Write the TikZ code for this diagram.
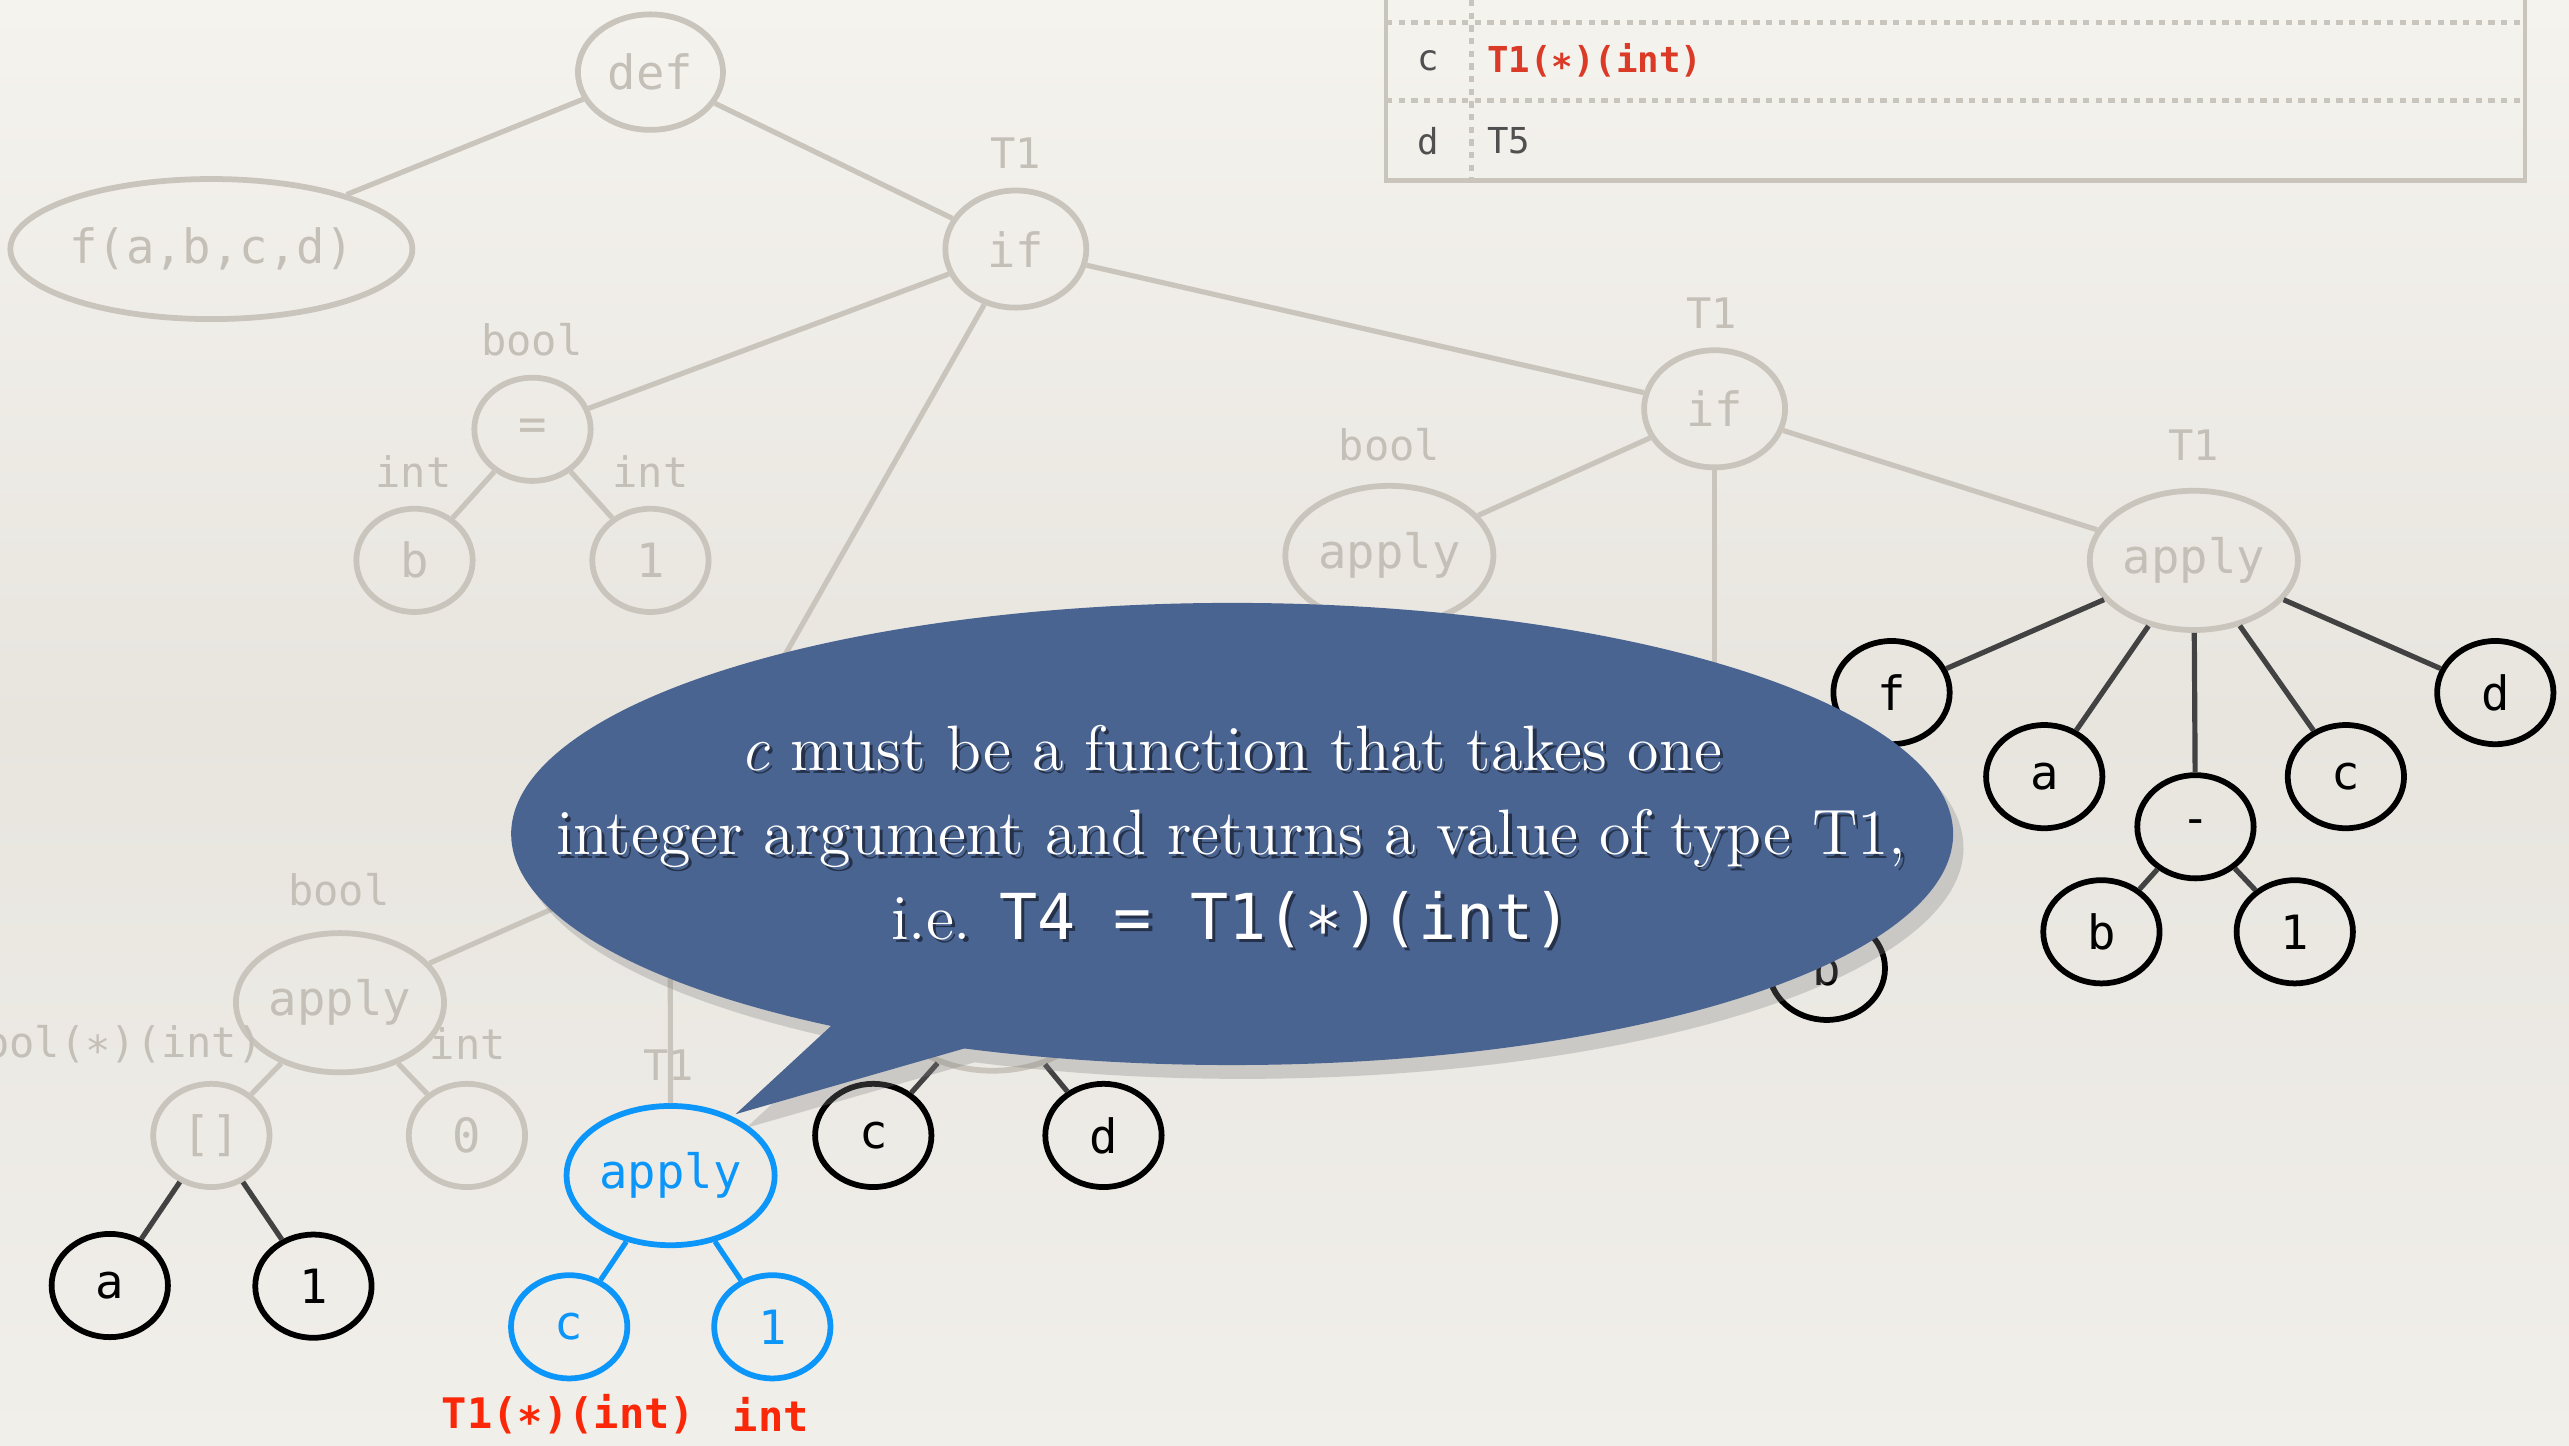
\documentclass[tikz,border=0pt]{standalone}
\usepackage{fontspec}
\setmonofont{DejaVu Sans Mono}
\usetikzlibrary{shapes.geometric,shadows,calc}

\definecolor{papertop}{RGB}{245,243,238}
\definecolor{papermid}{RGB}{232,229,223}
\definecolor{paperbot}{RGB}{241,239,234}
\definecolor{fadegray}{RGB}{201,196,188}
\definecolor{fadetext}{RGB}{196,191,183}
\definecolor{edgedark}{RGB}{66,66,66}
\definecolor{hotblue}{RGB}{12,150,250}
\definecolor{bubblefill}{RGB}{74,100,146}
\definecolor{tabred}{RGB}{218,58,38}
\definecolor{labred}{RGB}{250,40,8}
\definecolor{tabtext}{RGB}{80,80,80}

\newcommand{\calloutmsg}{\textit{c} must be a function that takes one\\
integer argument and returns a value of type T1,\\
i.e. {\fontsize{11}{14.65}\selectfont\ttfamily T4 = T1(∗)(int)}}

\begin{document}
\begin{tikzpicture}[
    tnode/.style={ellipse, line width=1pt, inner sep=0pt, minimum width=0.71cm, minimum height=0.63cm, font=\fontsize{8.2}{9}\selectfont\ttfamily},
    wide/.style={minimum width=1.27cm, minimum height=0.85cm},
    faded/.style={tnode, draw=fadegray, text=fadetext},
    plain/.style={tnode, draw=black, text=black},
    hot/.style={tnode, draw=hotblue, text=hotblue},
    typ/.style={font=\fontsize{7.3}{8}\selectfont\ttfamily, text=fadetext, inner sep=0pt},
    redtyp/.style={font=\fontsize{7.3}{8}\selectfont\ttfamily\bfseries, text=labred, inner sep=0pt},
    tabtxt/.style={font=\fontsize{6.2}{7}\selectfont\ttfamily, text=tabtext, inner sep=0pt},
    fedge/.style={draw=fadegray, line width=0.9pt},
    dedge/.style={draw=edgedark, line width=0.9pt},
    bedge/.style={draw=hotblue, line width=0.9pt},
    msgtext/.style={align=center, font=\fontsize{11.15}{14.65}\selectfont, inner sep=0pt}
]
    % paper
    \useasboundingbox (0,0) rectangle (15.68,-8.82);
    \fill[top color=papertop, bottom color=paperbot, middle color=papermid] (0,0) rectangle (15.68,-8.82);

    % table of types
    \draw[fadegray, line width=0.8pt] (8.46,0) -- (8.46,-1.10) -- (15.41,-1.10) -- (15.41,0);
    \draw[fadegray, line width=0.9pt, dash pattern=on 1.1pt off 1.1pt] (8.46,-0.139) -- (15.41,-0.139);
    \draw[fadegray, line width=0.9pt, dash pattern=on 1.1pt off 1.1pt] (8.46,-0.615) -- (15.41,-0.615);
    \draw[fadegray, line width=0.9pt, dash pattern=on 1.1pt off 1.1pt] (8.98,0) -- (8.98,-1.10);
    \node[tabtxt] (rowc) at (8.72,-0.37) {c};
    \node[tabtxt, text=tabred, font=\fontsize{6.2}{7}\selectfont\ttfamily\bfseries, anchor=west] (typc) at (9.07,-0.37) {T1(∗)(int)};
    \node[tabtxt] (rowd) at (8.72,-0.86) {d};
    \node[tabtxt, anchor=west] (typd) at (9.07,-0.86) {T5};

    % faded part of the tree
    \node[faded, minimum width=0.885cm, minimum height=0.705cm] (def) at (3.97,-0.44) {def};
    \node[faded, minimum width=2.405cm, minimum height=0.855cm] (fsig) at (1.29,-1.52) {f(a,b,c,d)};
    \node[faded, minimum width=0.86cm, minimum height=0.715cm] (ifA) at (6.20,-1.52) {if};
    \node[faded] (eqA) at (3.25,-2.62) {=};
    \node[faded] (bA) at (2.53,-3.42) {b};
    \node[faded] (oneA) at (3.97,-3.42) {1};
    \node[faded, minimum width=0.86cm, minimum height=0.715cm] (ifB) at (10.465,-2.495) {if};
    \node[faded, wide] (applyC) at (8.48,-3.39) {apply};
    \node[faded, wide] (applyR) at (13.39,-3.42) {apply};
    \node[faded, wide] (applyL) at (2.075,-6.12) {apply};
    \node[faded] (idx) at (1.29,-6.93) {[]};
    \node[faded] (zero) at (2.85,-6.93) {0};
    \node[faded, wide] (applyM) at (6.06,-6.11) {};
    \coordinate (ifC) at (4.09,-5.23);
    \coordinate (ifBmid) at (10.465,-5.05);

    \node[typ] (tyIfA) at (6.20,-0.936) {T1};
    \node[typ] (tyEqA) at (3.247,-2.075) {bool};
    \node[typ] (tyBA) at (2.523,-2.88) {int};
    \node[typ] (tyOneA) at (3.97,-2.88) {int};
    \node[typ] (tyIfB) at (10.446,-1.913) {T1};
    \node[typ] (tyApplyC) at (8.48,-2.717) {bool};
    \node[typ] (tyApplyR) at (13.39,-2.72) {T1};
    \node[typ] (tyApplyL) at (2.068,-5.43) {bool};
    \node[typ, anchor=east] (tyIdx) at (1.61,-6.37) {bool(∗)(int)};
    \node[typ] (tyZero) at (2.856,-6.37) {int};
    \node[typ] (tyApplyB) at (4.08,-6.50) {T1};

    % leaves in black
    \node[plain] (fR) at (11.545,-4.227) {f};
    \node[plain] (aR) at (12.477,-4.74) {a};
    \node[plain] (minus) at (13.40,-5.046) {-};
    \node[plain] (cR) at (14.318,-4.74) {c};
    \node[plain] (dR) at (15.23,-4.227) {d};
    \node[plain] (bR) at (12.826,-5.687) {b};
    \node[plain] (oneR) at (14.006,-5.687) {1};
    \node[plain] (bM) at (11.15,-5.91) {b};
    \node[plain] (cM) at (5.33,-6.93) {c};
    \node[plain] (dM) at (6.735,-6.93) {d};
    \node[plain] (aL) at (0.67,-7.846) {a};
    \node[plain] (oneL) at (1.913,-7.85) {1};

    % the call being typed
    \node[hot, wide] (applyB) at (4.093,-7.175) {apply};
    \node[hot] (cB) at (3.474,-8.098) {c};
    \node[hot] (oneB) at (4.714,-8.098) {1};
    \node[redtyp] (tyCB) at (3.47,-8.63) {T1(∗)(int)};
    \node[redtyp] (tyOneB) at (4.704,-8.63) {int};

    % edges
    \draw[fedge] (def) -- (fsig);
    \draw[fedge] (def) -- (ifA);
    \draw[fedge] (ifA) -- (eqA);
    \draw[fedge] (ifA) -- (ifC);
    \draw[fedge] (ifA) -- (ifB);
    \draw[fedge] (eqA) -- (bA);
    \draw[fedge] (eqA) -- (oneA);
    \draw[fedge] (ifB) -- (applyC);
    \draw[fedge] (ifB) -- (ifBmid);
    \draw[fedge] (ifB) -- (applyR);
    \draw[fedge] (applyL) -- (ifC);
    \draw[fedge] (applyL) -- (idx);
    \draw[fedge] (applyL) -- (zero);
    \draw[fedge] (applyB) -- (ifC);
    \draw[fedge] (applyM) -- (ifC);
    \foreach \k in {fR,aR,minus,cR,dR} {\draw[dedge] (applyR) -- (\k);}
    \draw[dedge] (minus) -- (bR);
    \draw[dedge] (minus) -- (oneR);
    \draw[dedge] (applyM) -- (cM);
    \draw[dedge] (applyM) -- (dM);
    \draw[dedge] (idx) -- (aL);
    \draw[dedge] (idx) -- (oneL);
    \draw[bedge] (applyB) -- (cB);
    \draw[bedge] (applyB) -- (oneB);

    % speech bubble
    \coordinate (bc) at (7.52,-5.09);
    \coordinate (tip) at (4.49,-6.80);
    \fill[bubblefill, drop shadow={opacity=0.3, shadow xshift=1.8pt, shadow yshift=-2.4pt}]
        ($(bc)+(248.2:4.40 and 1.41)$) arc[start angle=248.2, end angle=596.2, x radius=4.40, y radius=1.41]
        -- (tip) -- cycle;
    \node[msgtext, text=black, opacity=0.5] (msgshade) at (7.535,-5.125) {\calloutmsg};
    \node[msgtext, text=white] (msg) at (7.515,-5.105) {\calloutmsg};
\end{tikzpicture}
\end{document}
